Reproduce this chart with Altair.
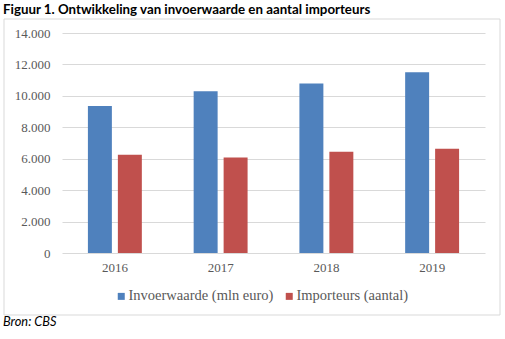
import altair as alt
import pandas as pd

years = ["2016", "2017", "2018", "2019"]
series = ["Invoerwaarde (mln euro)", "Importeurs (aantal)"]
invoerwaarde = [9350, 10300, 10780, 11500]
importeurs = [6250, 6070, 6450, 6640]
colors = ["#4f81bd", "#c0504d"]
y_ticks = [0, 2000, 4000, 6000, 8000, 10000, 12000, 14000]

rows = []
for i, yr in enumerate(years):
    rows.append({"jaar": yr, "reeks": series[0], "waarde": invoerwaarde[i]})
    rows.append({"jaar": yr, "reeks": series[1], "waarde": importeurs[i]})
df = pd.DataFrame(rows)

serif = "Liberation Serif"
txt = "#595959"

bars = alt.Chart(df).mark_bar().encode(
    x=alt.X("jaar:N", sort=years, title=None,
            scale=alt.Scale(paddingInner=0.49, paddingOuter=0.245),
            axis=alt.Axis(labelAngle=0, labelFont=serif, labelFontSize=13,
                          labelColor=txt, domain=False, ticks=False, labelPadding=8)),
    xOffset=alt.XOffset("reeks:N", sort=series,
                        scale=alt.Scale(paddingInner=0.2, paddingOuter=0)),
    y=alt.Y("waarde:Q", title=None,
            scale=alt.Scale(domain=[0, 14000]),
            axis=alt.Axis(values=y_ticks, labelFont=serif, labelFontSize=13,
                          labelColor=txt, domain=False, ticks=False, labelPadding=12,
                          grid=True, gridColor="#d9d9d9",
                          labelExpr="replace(format(datum.value, ','), ',', '.')")),
    color=alt.Color("reeks:N", sort=series,
                    scale=alt.Scale(domain=series, range=colors),
                    legend=alt.Legend(title=None, orient="none", direction="horizontal",
                                      legendX=52, legendY=256, padding=0,
                                      symbolType="square", symbolSize=49,
                                      symbolStrokeWidth=0,
                                      labelFont=serif, labelFontSize=14.5,
                                      labelColor=txt, labelOffset=0,
                                      columnPadding=8)),
)

one = alt.Data(values=[{}])

border = alt.Chart(one).mark_rect(fill=None, stroke="#d9d9d9", strokeWidth=1).encode(
    x=alt.value(-58), x2=alt.value(438), y=alt.value(-14), y2=alt.value(282)
)

title = alt.Chart(one).mark_text(
    align="left", baseline="middle", font="Lato", fontSize=13.3, fontWeight="bold",
    color="#000000"
).encode(x=alt.value(-59), y=alt.value(-23), text=alt.value(
    "Figuur 1. Ontwikkeling van invoerwaarde en aantal importeurs"))

bron = alt.Chart(one).mark_text(
    align="left", baseline="middle", font="Lato", fontSize=12.8, fontStyle="italic",
    color="#000000"
).encode(x=alt.value(-59), y=alt.value(289), text=alt.value("Bron: CBS"))

chart = alt.layer(border, bars, title, bron).properties(
    width=423, height=220,
    autosize=alt.AutoSizeParams(type="none"),
    padding={"left": 62, "top": 33, "right": 20, "bottom": 86},
    background="white",
).configure_view(stroke=None)

chart.save("out.html", embed_options={"renderer": "svg", "actions": False})
